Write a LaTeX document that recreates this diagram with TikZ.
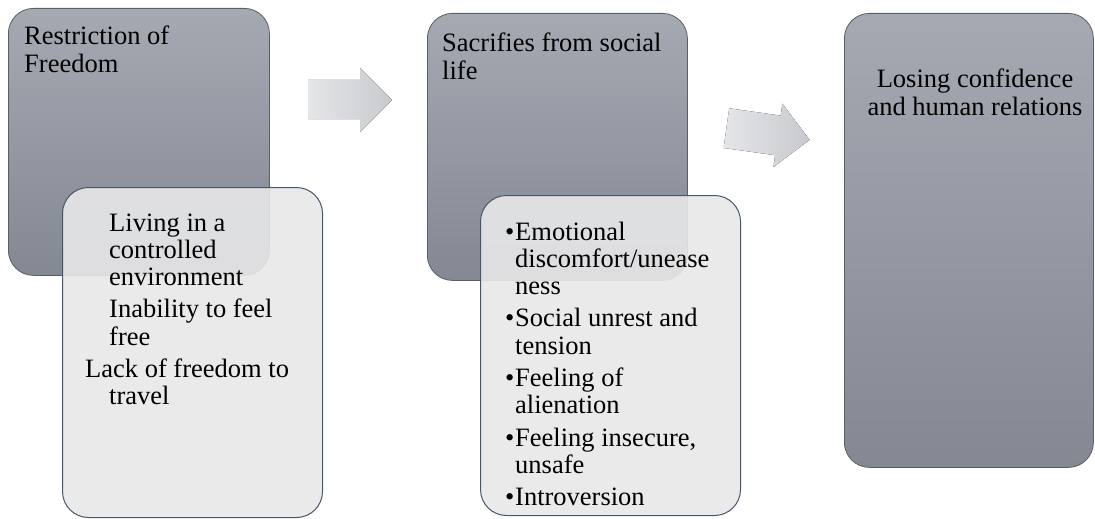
\documentclass[tikz,border=0pt]{standalone}
\usepackage{fontspec}
\setmainfont{Liberation Serif}
\definecolor{darktop}{RGB}{164,169,178}
\definecolor{darkbot}{RGB}{131,136,147}
\definecolor{darkline}{RGB}{90,94,102}
\definecolor{lightfill}{RGB}{232,232,233}
\definecolor{lightline}{RGB}{70,86,108}
\definecolor{arrowL}{RGB}{229,230,232}
\definecolor{arrowR}{RGB}{199,201,205}
\newcommand\bulmark{\makebox[10pt][l]{•}}
\newcommand\indbul{\hspace*{10pt}}
\newcommand\indlist{\hspace*{24pt}}
\newcommand\Lleft[1]{\vtop{\halign{##\hfil\cr#1\crcr}}}
\newcommand\Lcent[1]{\vtop{\halign{\hfil##\hfil\cr#1\crcr}}}
\newcommand\pgap{\noalign{\vskip5pt}}
\begin{document}
\begin{tikzpicture}[x=1pt,y=-1pt,
  darkbox/.style={draw=darkline, line width=0.8pt, top color=darktop, bottom color=darkbot, rounded corners=25pt, anchor=north west, inner sep=0pt},
  lightbox/.style={draw=lightline, line width=1pt, fill=lightfill, fill opacity=0.9, rounded corners=26pt, anchor=north west, inner sep=0pt},
  txt/.style={font=\fontsize{26.5}{27.3}\selectfont, inner sep=0pt, anchor=base west},
  blockarrow/.style={left color=arrowL, right color=arrowR, draw=none}]
\useasboundingbox (0,0) rectangle (1095,519);
% boxes
\node[darkbox, minimum width=261pt, minimum height=267pt] (d1) at (8,8) {};
\node[lightbox, minimum width=260pt, minimum height=330pt] (l1) at (62,187) {};
\node[darkbox, minimum width=260pt, minimum height=267pt] (d2) at (427,13) {};
\node[lightbox, minimum width=260pt, minimum height=320pt] (l2) at (480,195) {};
\node[darkbox, minimum width=249pt, minimum height=454pt] (d3) at (844,13) {};
% titles
\node[txt] (t1) at (24,45) {\Lleft{Restriction of\cr Freedom}};
\node[txt] (t2) at (442,52) {\Lleft{Sacrifies from social\cr life}};
\node[txt, anchor=base] (t3) at (975,88) {\Lcent{Losing confidence\cr and human relations}};
% lists
\node[txt] (a1) at (85,231) {\Lleft{\indlist Living in a\cr \indlist controlled\cr \indlist environment\cr\pgap \indlist Inability to feel\cr \indlist free\cr\pgap Lack of freedom to\cr \indlist travel}};
\node[txt] (a2) at (505,240) {\Lleft{\bulmark Emotional\cr \indbul discomfort/unease\cr \indbul ness\cr\pgap \bulmark Social unrest and\cr \indbul tension\cr\pgap \bulmark Feeling of\cr \indbul alienation\cr\pgap \bulmark Feeling insecure,\cr \indbul unsafe\cr\pgap \bulmark Introversion}};
% arrows
\fill[blockarrow] (308,80) -- (360,80) -- (360,68) -- (392,100) -- (360,132) -- (360,119) -- (308,119) -- cycle;
\begin{scope}[shift={(768,134)}, rotate=-8]
\fill[blockarrow] (-42,-20) -- (10,-20) -- (10,-32) -- (42,0) -- (10,32) -- (10,20) -- (-42,20) -- cycle;
\end{scope}
\end{tikzpicture}
\end{document}
